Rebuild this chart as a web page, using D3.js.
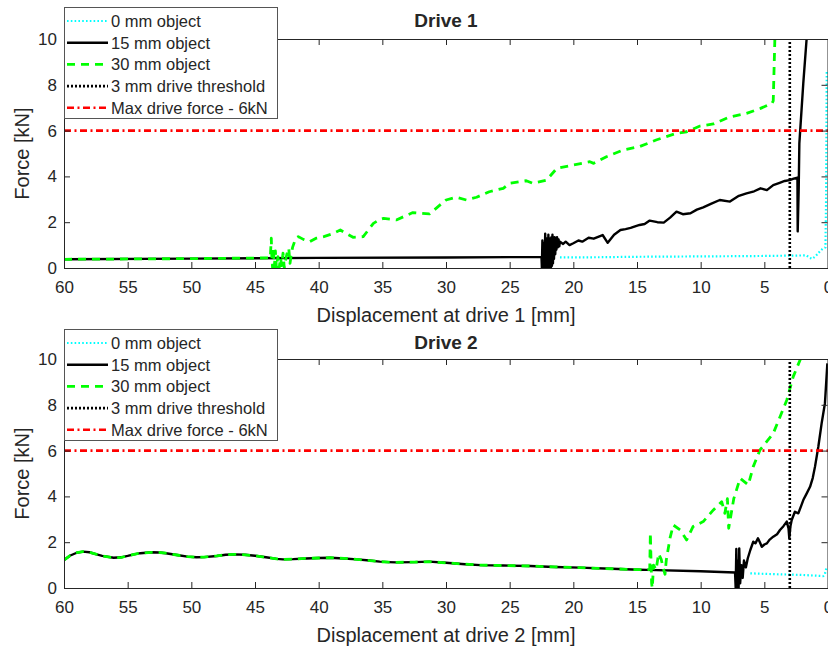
<!DOCTYPE html>
<html><head><meta charset="utf-8">
<script src="https://cdn.jsdelivr.net/npm/d3@7"></script>
<style>
body{margin:0;background:#fff;}
text{font-family:"Liberation Sans",Arial,sans-serif;fill:#262626;}
</style></head>
<body><svg id="c" width="828" height="648"></svg>
<script>
// ---- data (displacement [mm], force [kN]) ----
const xTicks = [60,55,50,45,40,35,30,25,20,15,10,5,0];
const yTicks = [0,2,4,6,8,10];
const legendLabels = ["0 mm object","15 mm object","30 mm object","3 mm drive threshold","Max drive force - 6kN"];
const titles = ["Drive 1","Drive 2"];
const xLabels = ["Displacement at drive 1 [mm]","Displacement at drive 2 [mm]"];
const thresholdDisp = 3;
const maxForce = 6;

const drive1_0mm = [[21.05,0.46],[18,0.47],[15,0.49],[12,0.5],[9,0.51],[6,0.52],[3,0.54],[1.7,0.55],[1.45,0.45],[1.25,0.4],[1.0,0.5],[0.6,0.75],[0.4,0.85],[0.2,0.9],[0.15,3],[0.1,8.6]];
const drive1_15mm = [[60,0.38],[50,0.41],[40,0.44],[30,0.46],[22.5,0.48],[22.47,0],[22.43,1.2],[22.4,0.05],[22.36,1.0],[22.33,0],[22.29,1.1],[22.25,0],[22.21,1.5],[22.17,0.1],[22.13,1.3],[22.09,0],[22.05,1.2],[22.0,0.05],[21.96,1.45],[21.92,0],[21.88,1.3],[21.84,0.1],[21.8,1.2],[21.76,0],[21.72,1.35],[21.68,0.1],[21.64,1.45],[21.6,0.2],[21.56,1.3],[21.52,0.4],[21.47,1.35],[21.42,0.6],[21.38,1.3],[21.33,0.8],[21.28,1.35],[21.22,0.9],[21.16,1.25],[21.1,0.95],[21.05,1.15],[20.8,1.05],[20.6,1.15],[20.3,1.0],[20.0,1.08],[19.6,1.2],[19.3,1.15],[18.8,1.32],[18.4,1.28],[17.7,1.44],[17.3,1.1],[16.8,1.45],[16.3,1.66],[15.9,1.7],[15.5,1.75],[14.8,1.88],[14.4,1.92],[14.0,2.07],[13.4,2.0],[12.9,1.98],[12.4,2.2],[11.9,2.46],[11.4,2.35],[10.8,2.39],[10.3,2.55],[9.8,2.65],[9.2,2.8],[8.5,2.97],[7.7,2.9],[7.0,3.15],[6.4,3.26],[5.8,3.35],[5.3,3.48],[4.8,3.4],[4.3,3.62],[3.8,3.72],[3.4,3.8],[3.0,3.84],[2.7,3.9],[2.4,3.94],[2.38,1.6],[2.3,3.5],[2.25,5.44],[1.94,8.07],[1.68,10.0]];
const drive1_30mm = [[60,0.38],[50,0.41],[43.8,0.44],[43.72,1.3],[43.68,0.5],[43.62,0],[43.55,0.9],[43.48,0.05],[43.4,0.75],[43.32,0],[43.2,0.5],[43.1,0],[43.0,0.45],[42.9,0.1],[42.8,0.65],[42.7,0],[42.6,0.35],[42.5,0.6],[42.35,0.87],[42.25,0.2],[42.15,0.6],[42.05,0.9],[41.8,1.3],[41.6,1.37],[41.2,1.25],[40.7,1.15],[40.2,1.3],[39.6,1.37],[38.9,1.5],[38.3,1.66],[37.8,1.5],[37.3,1.34],[36.5,1.37],[35.7,1.95],[35.2,2.12],[34.9,2.17],[33.9,2.1],[32.6,2.42],[31.3,2.36],[30.0,2.97],[29.2,3.09],[28.4,2.97],[27.6,3.09],[26.6,3.33],[25.5,3.48],[25.0,3.7],[24.2,3.77],[23.7,3.81],[23.2,3.7],[22.1,3.84],[21.3,4.35],[20.0,4.5],[18.7,4.64],[18.4,4.57],[17.4,4.86],[16.1,5.15],[14.8,5.3],[13.5,5.59],[11.9,5.88],[11.1,5.95],[10.05,6.2],[9.0,6.29],[7.7,6.6],[6.4,6.75],[5.3,6.97],[4.4,7.19],[4.3,7.3],[4.15,10.5]];

const drive2_approach = [[60,1.22],[59.5,1.42],[59,1.54],[58.5,1.59],[58,1.56],[57.5,1.48],[57,1.4],[56.1,1.32],[55.5,1.34],[55,1.4],[54.5,1.47],[54,1.52],[53.1,1.56],[52.5,1.55],[52,1.52],[51,1.43],[50.3,1.37],[49.6,1.34],[49,1.35],[48,1.4],[47.3,1.45],[46.6,1.47],[45.8,1.45],[45,1.41],[44,1.33],[43.3,1.27],[42.8,1.25],[42,1.26],[41,1.29],[40,1.31],[39.1,1.32],[38,1.29],[37,1.25],[36,1.2],[35.2,1.15],[34.5,1.13],[33.9,1.12],[32.5,1.13],[31.3,1.15],[30,1.1],[28.5,1.04],[27.3,1.0],[25.5,0.98],[23.4,0.96],[21.5,0.92],[19.5,0.89],[17,0.84],[14.8,0.8],[14.2,0.79]];
const drive2_0mm = [[6.1,0.64],[4,0.6],[2,0.57],[0.37,0.52],[0.25,0.6],[0.1,0.93]];
const drive2_15mm_tail = [[10,0.73],[7.3,0.68],[7.25,0],[7.2,1.7],[7.15,0],[7.1,1.2],[7.02,0],[6.97,1.73],[6.9,0.2],[6.8,1.0],[6.7,0.44],[6.6,1.2],[6.45,0.9],[6.3,1.3],[6.1,1.66],[5.87,2.02],[5.7,1.95],[5.5,2.17],[5.35,2.0],[5.2,1.8],[5.0,1.9],[4.8,1.95],[4.6,2.1],[4.3,2.24],[4.0,2.35],[3.77,2.53],[3.5,2.7],[3.24,2.9],[3.1,2.6],[3.04,2.17],[2.95,2.7],[2.85,2.97],[2.6,3.33],[2.33,3.26],[2.1,3.6],[1.94,3.84],[1.7,4.1],[1.41,4.42],[1.2,4.8],[1.02,5.3],[0.76,6.17],[0.5,7.19],[0.24,8.07],[0.05,9.81]];
const drive2_30mm_tail = [[14.0,0.82],[13.95,2.4],[13.9,1.2],[13.85,0.2],[13.8,0],[13.75,0.5],[13.7,1.0],[13.5,0.8],[13.3,1.5],[13.1,1.25],[12.95,0.9],[12.8,0.6],[12.7,1.22],[12.4,2.2],[12.15,2.75],[11.6,2.53],[11.1,2.1],[10.6,2.68],[9.8,2.9],[9.0,3.41],[8.35,3.77],[8.1,3.26],[7.9,3.9],[7.8,2.61],[7.4,3.9],[6.9,4.79],[6.26,4.5],[5.87,5.3],[5.34,6.03],[4.3,6.75],[3.24,8.2],[2.73,9.23],[1.94,10.3]];

const panels = [
  {zero: drive1_0mm, s15: drive1_15mm, s30: drive1_30mm},
  {zero: drive2_0mm, s15: drive2_approach.concat(drive2_15mm_tail), s30: drive2_approach.concat(drive2_30mm_tail)}
];

// ---- styles ----
const styles = [
  {color:"#00ffff", width:2.2, dash:"1.6,2.2"},
  {color:"#000000", width:2.4, dash:null},
  {color:"#00ff00", width:2.8, dash:"8,6"},
  {color:"#000000", width:2.6, dash:"2,2"},
  {color:"#ff0000", width:2.6, dash:"7,3.5,2,3.5"}
];
const axisColor = "#262626";

const svg = d3.select("#c");
const left = 64, right = 828;

panels.forEach((p, i) => {
  const off = i * 320;
  const top = 39 + off, bottom = 268 + off;
  const x = d3.scaleLinear().domain([60,0]).range([left,right]);
  const y = d3.scaleLinear().domain([0,10]).range([bottom,top]);
  const g = svg.append("g");

  const clipId = "clip" + i;
  g.append("clipPath").attr("id", clipId).append("rect")
    .attr("x", left).attr("y", top).attr("width", right-left).attr("height", bottom-top);

  const line = d3.line().x(d => x(d[0])).y(d => y(d[1]));
  const plot = g.append("g").attr("clip-path", `url(#${clipId})`);
  const addPath = (data, st) => {
    const path = plot.append("path").datum(data).attr("d", line)
      .attr("fill","none").attr("stroke", st.color).attr("stroke-width", st.width)
      .attr("stroke-linejoin","round");
    if (st.dash) path.attr("stroke-dasharray", st.dash);
  };
  addPath(p.zero, styles[0]);
  addPath(p.s15, styles[1]);
  addPath(p.s30, styles[2]);
  addPath([[thresholdDisp,0],[thresholdDisp,10]], styles[3]);
  addPath([[60,maxForce],[0,maxForce]], styles[4]);

  // axes
  const ax = g.append("g").attr("transform", `translate(0,${bottom})`)
    .call(d3.axisBottom(x).tickValues(xTicks).tickSizeInner(-6).tickSizeOuter(0).tickPadding(13));
  const axTop = g.append("g").attr("transform", `translate(0,${top})`)
    .call(d3.axisTop(x).tickValues(xTicks).tickSizeInner(-6).tickSizeOuter(0).tickFormat(""));
  const ay = g.append("g").attr("transform", `translate(${left},0)`)
    .call(d3.axisLeft(y).tickValues(yTicks).tickSizeInner(-6).tickSizeOuter(0).tickPadding(7));
  const ayR = g.append("g").attr("transform", `translate(${right-0.5},0)`)
    .call(d3.axisRight(y).tickValues(yTicks).tickSizeInner(-6).tickSizeOuter(0).tickFormat(""));
  [ax, axTop, ay, ayR].forEach(a => {
    a.selectAll("path.domain").attr("stroke", axisColor);
    a.selectAll("line").attr("stroke", axisColor);
    a.selectAll("text").style("font-size","17px").attr("fill", axisColor)
      .style("font-family",'"Liberation Sans",Arial,sans-serif');
  });

  // title
  g.append("text").attr("x", (left+right)/2).attr("y", 27 + off + (i?2:0))
    .attr("text-anchor","middle").style("font-size","19px").style("font-weight","bold")
    .text(titles[i]);
  // x label
  g.append("text").attr("x", (left+right)/2).attr("y", 322 + off)
    .attr("text-anchor","middle").style("font-size","20px").text(xLabels[i]);
  // y label
  g.append("text").attr("transform", `translate(29,${(top+bottom)/2}) rotate(-90)`)
    .attr("text-anchor","middle").style("font-size","20px").text("Force [kN]");

  // legend
  const lo = 7 + off + (i?2:0);
  const lg = g.append("g");
  lg.append("rect").attr("x", 64.5).attr("y", lo+0.5).attr("width", 213).attr("height", 111)
    .attr("fill","#fff").attr("stroke","#555").attr("stroke-width",1);
  legendLabels.forEach((lab, k) => {
    const yy = lo + 14 + k*21.7;
    const ln = lg.append("line").attr("x1",67).attr("x2",108).attr("y1",yy).attr("y2",yy)
      .attr("stroke", styles[k].color).attr("stroke-width", styles[k].width);
    if (styles[k].dash) ln.attr("stroke-dasharray", styles[k].dash);
    lg.append("text").attr("x",111).attr("y",yy).attr("dy","0.36em")
      .style("font-size","16.5px").text(lab);
  });
});
</script></body></html>
